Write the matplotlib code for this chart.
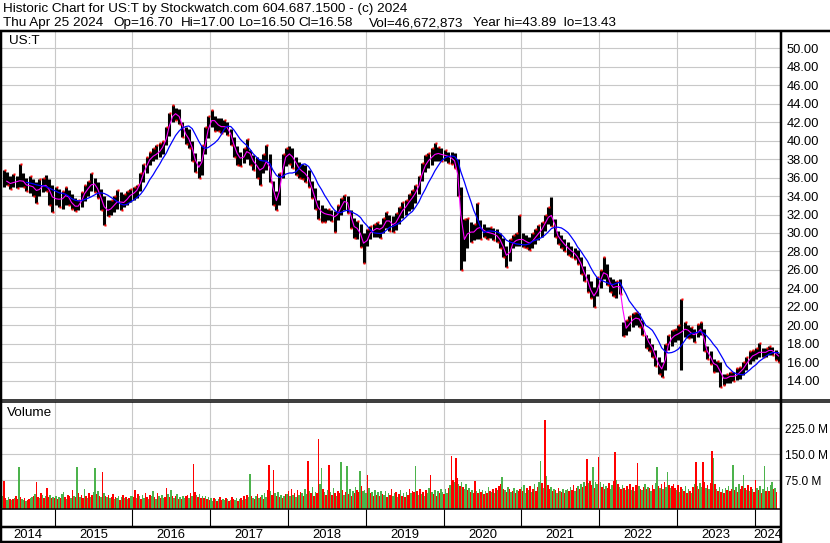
import numpy as np
import pandas as pd
import matplotlib
matplotlib.use("Agg")
import matplotlib.pyplot as plt
from matplotlib.lines import Line2D

plt.rcParams['font.family'] = ['Liberation Sans', 'DejaVu Sans']

W, H = 830, 543

# half-month bars (1st / 15th), May 2014 .. Apr 2024
hi = [36.8, 36.6, 36.2, 36.4, 36.2, 37.5, 36.5, 36.0, 36.2, 35.8, 35.5, 35.8, 36.0, 36.3, 35.8, 35.2,
      35.0, 34.8, 34.5, 35.0, 34.6, 34.2, 33.8, 33.6, 34.4, 35.2, 35.6, 36.5, 36.0, 35.5, 34.8, 34.0, 33.6, 33.6, 34.0, 34.6, 34.4, 34.2, 34.5, 34.8,
      35.0, 35.2, 36.5, 37.5, 38.2, 38.8, 39.2, 39.5, 39.7, 40.0, 41.5, 43.0, 43.8, 43.5, 43.4, 42.0, 41.5, 41.2, 40.0, 38.6, 37.8, 39.5, 41.5, 42.6,
      43.3, 42.6, 42.4, 42.4, 42.2, 42.0, 41.2, 40.4, 39.4, 38.8, 39.2, 40.2, 39.0, 38.4, 38.2, 38.0, 38.5, 39.5, 38.5, 35.6, 34.5, 36.5, 38.5, 39.2,
      39.4, 39.2, 38.2, 37.7, 37.5, 37.4, 36.8, 35.6, 34.9, 33.6, 33.0, 32.7, 32.6, 32.5, 32.4, 33.0, 33.8, 34.1, 34.0, 32.5, 31.6, 31.3, 31.0, 30.0,
      30.4, 30.8, 31.0, 31.2, 31.0, 31.6, 32.3, 32.0, 31.8, 32.2, 32.8, 33.4, 33.6, 34.2, 34.6, 35.2, 36.2, 37.6, 38.4, 38.6, 39.2, 39.7, 39.3, 39.2,
      39.0, 38.8, 38.8, 38.6, 38.0, 35.0, 31.5, 31.6, 31.2, 31.0, 33.2, 31.4, 31.0, 30.6, 30.6, 30.5, 30.4, 30.0, 29.5, 28.6, 29.4, 29.8, 30.0, 31.9,
      30.0, 29.8, 29.6, 30.0, 30.4, 30.9, 31.2, 32.0, 32.8, 33.9, 31.5, 30.2, 29.8, 29.4, 29.0, 28.6, 28.4, 28.2, 27.4, 26.4, 25.6, 24.8, 24.2, 25.2,
      26.0, 27.4, 26.6, 25.2, 25.0, 24.8, 25.0, 20.4, 20.6, 21.0, 21.4, 21.5, 21.4, 20.6, 19.0, 18.6, 18.0, 17.4, 16.6, 16.0, 18.0, 19.0, 19.5, 19.6,
      20.0, 22.9, 20.4, 20.0, 19.8, 19.6, 20.2, 20.4, 19.6, 17.8, 17.2, 16.4, 16.2, 16.0, 14.8, 14.8, 15.0, 15.0, 15.4, 15.5, 16.0, 16.6, 17.2, 17.3,
      17.6, 18.1, 17.6, 17.6, 17.8, 17.7, 17.4, 17.0]
lo = [35.0, 35.2, 34.8, 35.0, 34.9, 35.0, 35.0, 34.5, 34.3, 34.0, 33.2, 34.0, 34.4, 34.5, 33.0, 32.3,
      33.0, 32.8, 32.6, 33.0, 33.0, 32.6, 32.4, 32.5, 32.8, 33.5, 34.0, 34.5, 34.4, 33.8, 32.5, 30.9, 31.8, 32.0, 32.3, 32.6, 32.5, 32.8, 33.0, 33.4,
      33.6, 33.8, 34.5, 35.5, 36.5, 37.4, 37.8, 38.0, 38.2, 38.5, 39.5, 40.5, 42.0, 42.2, 41.8, 40.4, 39.6, 39.2, 37.8, 36.6, 36.0, 36.3, 38.5, 40.3,
      41.5, 41.0, 41.0, 40.8, 40.9, 40.6, 39.5, 38.2, 37.4, 37.2, 37.6, 38.0, 37.3, 36.8, 36.0, 35.2, 36.5, 36.8, 35.5, 33.0, 32.5, 33.0, 36.0, 37.2,
      37.5, 37.0, 36.3, 36.0, 35.8, 35.5, 35.0, 33.8, 32.6, 31.5, 31.2, 31.2, 31.4, 31.3, 30.1, 31.4, 32.0, 32.5, 32.2, 30.5, 29.5, 29.4, 28.5, 26.8,
      28.6, 29.4, 29.6, 29.6, 29.5, 30.0, 30.5, 30.2, 30.1, 30.3, 31.0, 31.6, 32.0, 32.4, 32.6, 33.2, 34.2, 35.6, 36.6, 37.0, 37.4, 37.8, 37.8, 37.8,
      37.8, 37.6, 37.5, 37.0, 34.0, 26.0, 27.0, 28.4, 29.0, 29.2, 29.4, 29.4, 29.6, 29.4, 29.5, 29.2, 29.0, 28.4, 27.4, 26.3, 27.0, 28.4, 28.6, 28.6,
      28.5, 28.4, 28.2, 28.4, 28.8, 29.2, 29.6, 30.2, 31.0, 30.8, 29.6, 28.8, 28.4, 28.0, 27.6, 27.4, 27.2, 26.6, 25.6, 24.8, 23.6, 23.0, 22.0, 23.2,
      24.0, 25.0, 24.4, 23.6, 23.2, 23.0, 23.4, 18.9, 19.0, 19.4, 19.8, 20.0, 19.8, 19.0, 17.6, 17.2, 16.6, 15.6, 14.8, 14.4, 15.2, 17.4, 17.8, 18.2,
      18.4, 15.2, 18.8, 18.6, 18.6, 18.2, 18.8, 19.0, 17.2, 16.4, 15.8, 15.0, 15.0, 13.4, 13.6, 13.8, 13.8, 14.0, 14.1, 14.2, 14.6, 15.2, 15.8, 16.2,
      16.4, 16.6, 16.6, 16.6, 16.8, 16.8, 16.3, 16.0]
cl = [35.8, 35.4, 35.3, 35.6, 35.5, 35.8, 35.4, 35.0, 35.2, 34.8, 34.4, 35.0, 35.2, 35.1, 34.2, 33.6,
      33.8, 33.5, 33.9, 34.2, 33.6, 33.0, 32.8, 33.0, 33.9, 34.6, 35.0, 35.4, 35.2, 34.4, 33.2, 32.5, 32.4, 32.8, 33.2, 33.5, 33.2, 33.4, 33.9, 34.2,
      34.4, 34.8, 36.0, 36.8, 37.6, 38.2, 38.4, 38.6, 39.0, 39.5, 40.8, 42.2, 43.0, 42.8, 42.4, 41.0, 40.4, 40.0, 38.5, 37.4, 36.8, 38.5, 40.5, 41.8,
      42.5, 41.8, 41.6, 41.4, 41.6, 41.2, 40.2, 39.0, 38.2, 38.0, 38.4, 39.2, 38.0, 37.6, 37.0, 36.6, 37.5, 38.0, 36.2, 33.8, 33.2, 35.8, 37.8, 38.6,
      38.5, 38.0, 37.2, 36.8, 36.6, 36.3, 35.6, 34.4, 33.2, 32.4, 32.2, 32.0, 32.0, 31.9, 31.6, 32.4, 33.2, 33.6, 33.0, 31.0, 30.4, 30.6, 29.2, 28.6,
      29.8, 30.2, 30.4, 30.6, 30.2, 31.0, 31.6, 31.0, 30.8, 31.4, 32.2, 32.6, 33.0, 33.6, 34.0, 34.6, 35.6, 37.0, 37.6, 38.0, 38.4, 38.6, 38.6, 38.4,
      38.4, 38.2, 38.0, 37.6, 35.0, 29.0, 29.6, 30.2, 30.0, 30.2, 30.8, 30.4, 30.2, 30.0, 30.0, 29.8, 29.6, 29.0, 28.0, 27.2, 28.6, 29.2, 29.2, 29.4,
      29.2, 29.0, 28.8, 29.4, 29.6, 30.2, 30.6, 31.4, 32.0, 31.8, 30.0, 29.4, 29.0, 28.6, 28.2, 28.0, 27.6, 27.2, 26.2, 25.4, 24.4, 23.4, 23.0, 24.4,
      25.4, 26.0, 25.0, 24.2, 24.0, 24.4, 24.0, 19.6, 19.8, 20.4, 20.8, 20.8, 20.6, 19.6, 18.4, 18.0, 17.2, 16.2, 15.4, 15.2, 17.4, 18.4, 18.8, 19.0,
      19.2, 19.4, 19.8, 19.2, 19.2, 18.8, 19.6, 19.6, 17.6, 17.0, 16.2, 15.6, 15.8, 14.4, 14.2, 14.4, 14.6, 14.4, 14.8, 15.0, 15.6, 16.0, 16.6, 16.8,
      17.0, 17.2, 17.0, 17.2, 17.4, 17.2, 16.8, 16.6]

# weekly volume (millions), from week of Apr 28 2014
vol_2014 = [28, 72, 22, 18, 25, 20, 16, 19, 24, 30, 21, 114, 26, 19, 17, 22, 15, 18, 20, 24, 27, 30, 35, 70, 26,
            22, 38, 33, 24, 29, 53, 27, 31, 23, 25]
vol_2015 = [24, 30, 19, 27, 22, 35, 41, 26, 20, 33, 28, 22, 45, 30, 25, 114, 38, 27, 31, 22, 48, 29, 24, 36, 27, 33,
            40, 111, 35, 44, 30, 26, 97, 38, 29, 25, 31, 22, 27, 34, 20, 26, 23, 29, 18, 25, 31, 22, 27, 19, 24, 28]
vol_2016 = [30, 26, 46, 22, 35, 28, 19, 31, 24, 38, 27, 21, 33, 29, 42, 25, 20, 36, 28, 24, 31, 22, 27, 53, 34, 26,
            45, 30, 23, 28, 35, 21, 26, 19, 30, 24, 28, 33, 22, 38, 29, 122, 40, 31, 26, 35, 22, 28, 24, 30, 21, 27]
vol_2017 = [18, 22, 15, 24, 19, 14, 21, 26, 17, 20, 16, 23, 19, 13, 18, 25, 21, 17, 22, 15, 19, 24, 18, 28, 20, 33,
            26, 92, 30, 24, 19, 28, 35, 22, 26, 31, 20, 38, 27, 45, 118, 42, 33, 104, 36, 28, 40, 25, 33, 22, 29, 35]
vol_2018 = [35, 42, 28, 50, 33, 38, 26, 45, 31, 40, 36, 29, 48, 34, 130, 44, 38, 55, 30, 41, 36, 194, 62, 111, 48, 39,
            33, 45, 118, 40, 31, 52, 36, 28, 44, 38, 128, 46, 33, 41, 117, 35, 50, 30, 42, 38, 55, 47, 40, 101, 58, 44]
vol_2019 = [45, 38, 90, 52, 36, 41, 30, 47, 33, 39, 28, 44, 35, 31, 42, 26, 38, 33, 48, 29, 36, 40, 27, 34, 45, 30,
            38, 26, 41, 33, 50, 36, 42, 39, 117, 44, 31, 48, 35, 40, 29, 46, 38, 52, 90, 41, 35, 47, 30, 43, 38, 49]
vol_2020 = [40, 35, 48, 38, 52, 60, 146, 75, 68, 140, 82, 64, 58, 70, 55, 48, 62, 45, 52, 40, 47, 38, 72, 44, 36, 50,
            41, 46, 35, 42, 38, 55, 44, 40, 48, 36, 52, 45, 58, 62, 85, 50, 46, 41, 55, 48, 40, 44, 52, 38, 47, 42]
vol_2021 = [48, 55, 42, 60, 38, 52, 45, 58, 40, 50, 62, 44, 56, 70, 131, 66, 52, 249, 88, 60, 48, 55, 42, 50, 46, 38,
            52, 44, 40, 48, 36, 45, 50, 42, 55, 47, 60, 44, 52, 58, 48, 62, 55, 70, 58, 136, 65, 72, 60, 114, 52, 68]
vol_2022 = [62, 141, 70, 55, 64, 48, 58, 52, 66, 50, 60, 72, 157, 75, 62, 55, 48, 60, 52, 45, 58, 50, 62, 47, 55, 44,
            60, 123, 58, 50, 46, 54, 62, 48, 56, 52, 44, 60, 50, 66, 114, 58, 52, 62, 48, 70, 55, 97, 60, 52, 58, 64]
vol_2023 = [52, 45, 60, 40, 55, 48, 42, 58, 36, 50, 44, 38, 56, 62, 126, 58, 48, 65, 55, 128, 70, 52, 60, 48, 66, 159,
            140, 62, 50, 44, 55, 40, 48, 36, 52, 45, 58, 42, 50, 118, 46, 55, 40, 62, 48, 58, 90, 52, 45, 60, 42, 55]
vol_2024 = [48, 40, 75, 52, 45, 58, 38, 50, 117, 44, 55, 42, 60, 70, 48, 52, 40]

# r = down week, g = up week
col_2014 = "grrgg rgrgr rgrgg rgrrg grgrr grgrg rrgrg"
col_2015 = "rgrgr ggrgr rgrgr grgrr grgrg rggrg rgrgr grgrr grggr grgrg rg"
col_2016 = "grrgr grggr rgrgg rgrgr ggrrg rgrgr grgrg grrgr grrgr grgrg rg"
col_2017 = "rggrg rgrrg grgrg rrggr grgrg rggrg rgrgr grggr rgrrg rgrgr gr"
col_2018 = "grgrg rgrgr grggr grgrg rrggr grgrg rgrgr rgrgr grgrg rgrrg rg"
col_2019 = "ggrgr grgrg rgrgg rgrrg grgrg rgrgr rgrrg rgrgr grggr grgrg rg"
col_2020 = "grggr grrgr rgrgr ggrgr grrgr grgrg rgrgr grgrr grgrg rgrgr gr"
col_2021 = "rgrgg rgrgr grrgg rgrgr rgrgr grgrg rggrg rrgrg rgrgr rgrrg rg"
col_2022 = "grgrg rgrrg grrgr grgrg rgrgr grrgr grgrg rgrrg grgrg rggrg rr"
col_2023 = "rgrgr grgrg rgrgr grggr rgrgr rgrgr grgrg rgrrg rgrgr rgrgr gr"
col_2024 = "grrgr grggr grggr gr"

price_ticks = np.arange(14, 50.1, 2)
vol_ticks = [75, 150, 225]
years = list(range(2015, 2025))

vol = (vol_2014 + vol_2015 + vol_2016 + vol_2017 + vol_2018 + vol_2019 + vol_2020
       + vol_2021 + vol_2022 + vol_2023 + vol_2024)
cols = "".join([col_2014, col_2015, col_2016, col_2017, col_2018, col_2019, col_2020,
                col_2021, col_2022, col_2023, col_2024]).replace(" ", "")


def fyear(d):
    return np.asarray(d.year + (d.dayofyear - 1) / 365.25, dtype=float)


xh = fyear(pd.date_range('2014-05-01', periods=len(hi), freq='SMS')) + 7 / 365.25
xw = fyear(pd.date_range('2014-04-28', periods=len(vol), freq='7D')) + 3.5 / 365.25
s = pd.Series(cl)
ma_fast = s.rolling(2).mean()
ma_slow = s.rolling(8).mean()
# red close ticks show where the close sits at the edge of the bar
up = s.diff().fillna(0).to_numpy() >= 0
tick_y = np.where(up, hi, lo)

X0, X1 = 2014.325, 2024.338
px = 1 / 77.8  # one pixel in years

fig = plt.figure(figsize=(W / 100, H / 100), dpi=100)


def box(x0, y0, x1, y1):
    return [x0 / W, 1 - y1 / H, (x1 - x0) / W, (y1 - y0) / H]


def line(xs, ys, lw=1.4):
    fig.add_artist(Line2D([x / W for x in xs], [1 - y / H for y in ys], color='black',
                          lw=lw * 0.72, transform=fig.transFigure, solid_capstyle='butt'))


def ftext(x, y, txt, size=9.7, **kw):
    fig.text(x / W, 1 - y / H, txt, fontsize=size, va='center', **kw)


# price panel
ax = fig.add_axes(box(2, 30, 781, 399))
ax.set_xlim(X0, X1)
ax.set_ylim(12.05, 51.95)
ax.set_axisbelow(True)
ax.vlines(xh, lo, hi, color='black', lw=2.2)
ax.plot(xh + 0.8 * px, tick_y, 's', color='red', ms=2.0, mec='none')
ax.plot(xh, ma_fast, color='#ff00ff', lw=0.8)
ax.plot(xh, ma_slow, color='#0000ff', lw=0.9)
ax.set_yticks(price_ticks)
ax.set_yticklabels([f"{v:.2f}" for v in price_ticks])
ax.set_xticks(years)
ax.set_xticklabels([])
ax.yaxis.tick_right()
ax.tick_params(length=0, pad=4, labelsize=9.3)
ax.grid(True, color='#c8c8c8', lw=0.8)
for sp in ax.spines.values():
    sp.set_visible(False)

# volume panel
axv = fig.add_axes(box(2, 402, 781, 509))
axv.set_xlim(X0, X1)
axv.set_ylim(-9, 301)
axv.set_axisbelow(True)
axv.bar(xw, np.array(vol) + 9, bottom=-9, width=7 / 365.25,
        color=['#ff0000' if c == 'r' else '#4cb34c' for c in cols], linewidth=0)
axv.set_yticks(vol_ticks)
axv.set_yticklabels([f"{v:.1f} M" for v in vol_ticks])
axv.set_xticks(years)
axv.set_xticklabels([])
axv.yaxis.tick_right()
axv.tick_params(length=0, pad=3, labelsize=8.6)
axv.grid(True, color='#c8c8c8', lw=0.8)
for sp in axv.spines.values():
    sp.set_visible(False)

# date band
axb = fig.add_axes(box(2, 509, 781, 543))
axb.set_xlim(X0, X1)
axb.set_ylim(34, 0)
axb.axis('off')
axb.vlines(years, 0, 18, color='black', lw=0.8)
edges = [X0] + years + [X1]
for a, b, lab in zip(edges[:-1], edges[1:], range(2014, 2025)):
    axb.text((a + b) / 2, 26, str(lab), ha='center', va='center', fontsize=9.4)

# frame lines
line([0, W], [30.5, 30.5], lw=2.5)
line([1, 1], [30, H], lw=2.5)
line([781, 781], [30, H], lw=2.5)
line([0, W], [399.5, 399.5], lw=1.5)
line([0, W], [402, 402], lw=1.5)
line([0, 781], [509, 509], lw=1.5)
line([0, 781], [527, 527], lw=2.5)
line([0, 781], [541.5, 541.5], lw=2.5)

# header
ftext(3, 9, "Historic Chart for US:T by Stockwatch.com 604.687.1500 - (c) 2024")
for x, t in [(3, "Thu Apr 25 2024"), (113, "Op=16.70"), (181, "Hi=17.00"), (239, "Lo=16.50"),
             (298, "Cl=16.58"), (369, "Vol=46,672,873"), (473, "Year hi=43.89  lo=13.43")]:
    ftext(x, 23, t)
ftext(9, 41, "US:T")
ftext(7, 413, "Volume")

fig.savefig("out.png", dpi=100, facecolor='white')
